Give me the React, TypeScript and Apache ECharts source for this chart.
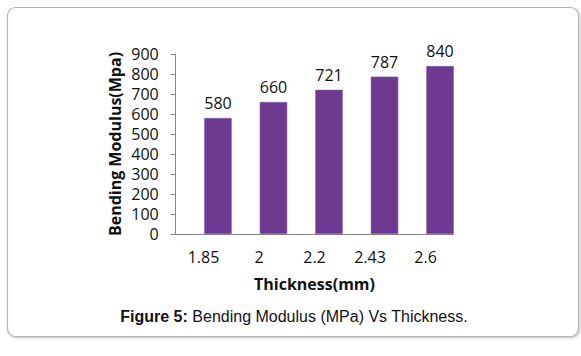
import React, { useEffect, useRef } from "react";
import * as echarts from "echarts";

const categories = ["1.85", "2", "2.2", "2.43", "2.6"];
const modulusValues = [580, 660, 721, 787, 840];
const yTicks = { min: 0, max: 900, interval: 100 };
const xAxisName = "Thickness(mm)";
const yAxisName = "Bending Modulus(Mpa)";
const captionBold = "Figure 5:";
const captionRest = " Bending Modulus (MPa) Vs Thickness.";

const FONT = "'Open Sans', sans-serif";

export default function App() {
  const ref = useRef<HTMLDivElement>(null);
  useEffect(() => {
    if (!ref.current) return;
    const chart = echarts.init(ref.current, null, { renderer: "svg" });
    const gridTop = 54;
    const gridHeight = 180;
    const gridLeft = 175.7;
    const gridWidth = 277.6;
    chart.setOption({
      animation: false,
      backgroundColor: "#ffffff",
      grid: [
        { left: gridLeft, top: gridTop, width: gridWidth, height: gridHeight },
        { left: gridLeft + 14.5, top: gridTop, width: gridWidth, height: gridHeight },
      ],
      xAxis: [
        {
          type: "category",
          gridIndex: 0,
          data: categories,
          axisLine: { show: true, lineStyle: { color: "#878787", width: 1 } },
          axisTick: { show: false },
          axisLabel: { color: "#111", fontFamily: FONT, fontSize: 16, margin: 15 },
          name: xAxisName,
          nameLocation: "middle",
          nameGap: 42,
          nameTextStyle: { color: "#111", fontFamily: FONT, fontSize: 16, fontWeight: "bold" },
        },
        {
          type: "category",
          gridIndex: 1,
          data: categories,
          show: false,
        },
      ],
      yAxis: [
        {
          type: "value",
          gridIndex: 0,
          min: yTicks.min,
          max: yTicks.max,
          interval: yTicks.interval,
          splitLine: { show: false },
          axisLine: { show: true, lineStyle: { color: "#878787", width: 1 } },
          axisTick: { show: true, length: 5, lineStyle: { color: "#878787" } },
          axisLabel: { color: "#111", fontFamily: FONT, fontSize: 16, margin: 17 },
          name: yAxisName,
          nameLocation: "middle",
          nameGap: 53,
          nameTextStyle: { color: "#111", fontFamily: FONT, fontSize: 16, fontWeight: "bold" },
        },
        {
          type: "value",
          gridIndex: 1,
          min: yTicks.min,
          max: yTicks.max,
          interval: yTicks.interval,
          show: false,
        },
      ],
      series: [
        {
          type: "bar",
          xAxisIndex: 1,
          yAxisIndex: 1,
          data: modulusValues,
          barWidth: 27.5,
          itemStyle: { color: "#6E3A91", borderColor: "#8660a6", borderWidth: 0.6 },
          label: {
            show: true,
            position: "top",
            distance: 7,
            color: "#111",
            fontFamily: FONT,
            fontSize: 16,
          },
        },
      ],
      graphic: [
        {
          type: "rect",
          z: -10,
          shape: { x: 7.5, y: 7.5, width: 571, height: 329, r: 8 },
          style: {
            fill: "#ffffff",
            stroke: "#b4b4b4",
            lineWidth: 1.2,
            shadowColor: "rgba(0,0,0,0.25)",
            shadowBlur: 2,
            shadowOffsetX: 1,
            shadowOffsetY: 1,
          },
          silent: true,
        },
        {
          type: "text",
          x: 294,
          y: 316,
          style: {
            text: "{b|" + captionBold + "}{n|" + captionRest + "}",
            align: "center",
            verticalAlign: "middle",
            rich: {
              b: { fontFamily: "'Liberation Sans', Arial, sans-serif", fontSize: 16, fontWeight: "bold", fill: "#111" },
              n: { fontFamily: "'Liberation Sans', Arial, sans-serif", fontSize: 16, fill: "#111" },
            },
          },
          silent: true,
        },
      ],
    });
    return () => chart.dispose();
  }, []);
  return (
    <div
      ref={ref}
      style={{ position: "absolute", left: 0, top: 0, width: 581, height: 356, background: "#fff" }}
    />
  );
}
